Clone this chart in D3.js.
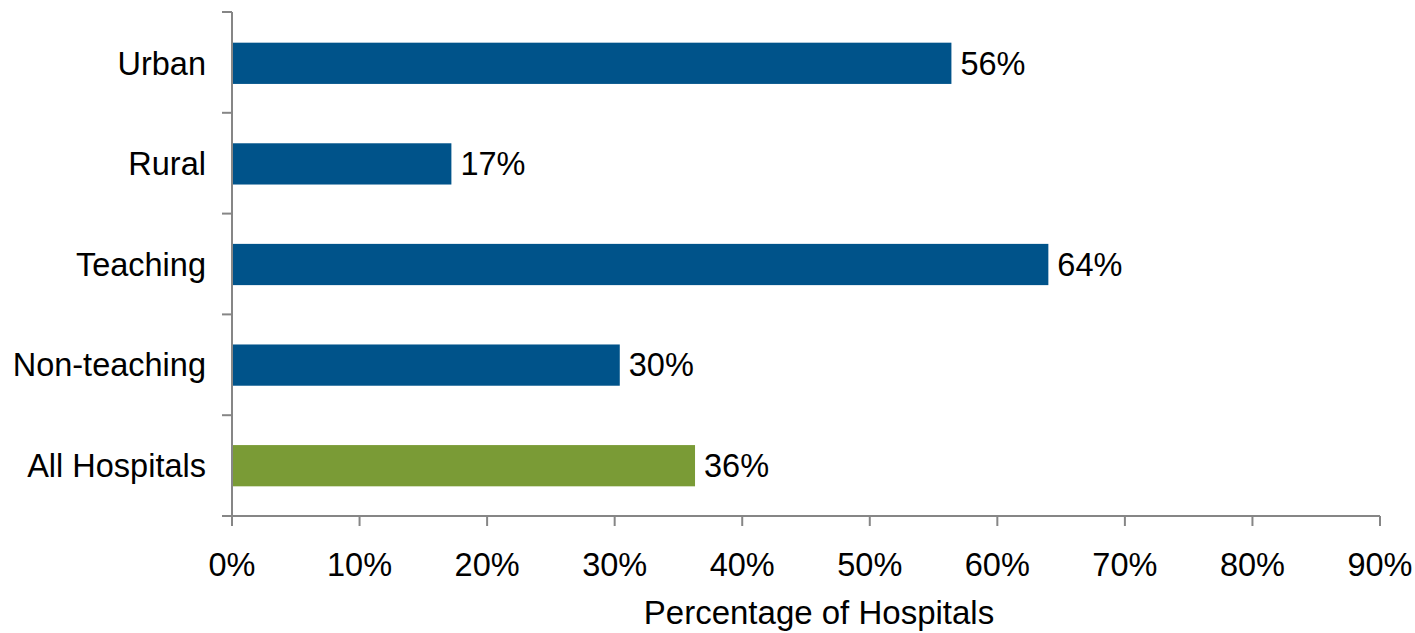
<!DOCTYPE html>
<html><head><meta charset="utf-8">
<script src="https://cdn.jsdelivr.net/npm/d3@7"></script>
<style>body{margin:0;background:#fff}svg{display:block}text{font-family:"Liberation Sans",Arial,sans-serif;fill:#000}</style>
</head><body>
<svg id="c" width="1415" height="633"></svg>
<script>
const categories = ["Urban","Rural","Teaching","Non-teaching","All Hospitals"];
const values = [56.4, 17.2, 64.0, 30.4, 36.3];
const labels = ["56%","17%","64%","30%","36%"];
const colors = ["#00538a","#00538a","#00538a","#00538a","#7a9b36"];
const xTicks = [0,10,20,30,40,50,60,70,80,90];
const xTitle = "Percentage of Hospitals";

const svg = d3.select("#c");
const m = {l:232, r:35, t:12, b:117};
const W = 1415, H = 633;
const FS = 32.5;
const x = d3.scaleLinear().domain([0,90]).range([m.l, W-m.r]);
const y = d3.scaleBand().domain(categories).range([m.t, H-m.b]).paddingInner(0.59).paddingOuter(0.3);
const axisColor = "#868686";

svg.selectAll("rect.bar").data(categories).join("rect")
  .attr("x", x(0)+1).attr("y", d=>y(d)+0.5)
  .attr("width", (d,i)=>x(values[i])-x(0)-1).attr("height", y.bandwidth())
  .attr("fill", (d,i)=>colors[i]);

svg.selectAll("text.val").data(categories).join("text")
  .attr("x", (d,i)=>x(values[i])+9).attr("y", d=>y(d)+y.bandwidth()/2)
  .attr("dy","0.36em").attr("font-size",FS).text((d,i)=>labels[i]);

const yAxis = svg.append("g");
yAxis.append("line").attr("x1",x(0)).attr("x2",x(0)).attr("y1",m.t).attr("y2",H-m.b).attr("stroke",axisColor).attr("stroke-width",2);
const bounds = d3.range(categories.length+1).map(i=>m.t + i*(H-m.b-m.t)/categories.length);
yAxis.selectAll("line.t").data(bounds).join("line").attr("x1",x(0)-10).attr("x2",x(0)).attr("y1",d=>d).attr("y2",d=>d).attr("stroke",axisColor).attr("stroke-width",2);
svg.selectAll("text.cat").data(categories).join("text")
  .attr("x", x(0)-26).attr("y", d=>y(d)+y.bandwidth()/2).attr("dy","0.36em")
  .attr("text-anchor","end").attr("font-size",FS).text(d=>d);

const gx = svg.append("g").attr("transform",`translate(0,${H-m.b})`);
gx.append("line").attr("x1",x(0)-10).attr("x2",x(90)).attr("stroke",axisColor).attr("stroke-width",2);
gx.selectAll("line.t").data(xTicks).join("line").attr("x1",d=>x(d)).attr("x2",d=>x(d)).attr("y1",0).attr("y2",10).attr("stroke",axisColor).attr("stroke-width",2);
gx.selectAll("text").data(xTicks).join("text").attr("x",d=>x(d)).attr("y",60).attr("text-anchor","middle").attr("font-size",FS).text(d=>d+"%");

svg.append("text").attr("x",(x(0)+x(90))/2 + 13).attr("y",H-9).attr("text-anchor","middle").attr("font-size",33).text(xTitle);
</script>
</body></html>
